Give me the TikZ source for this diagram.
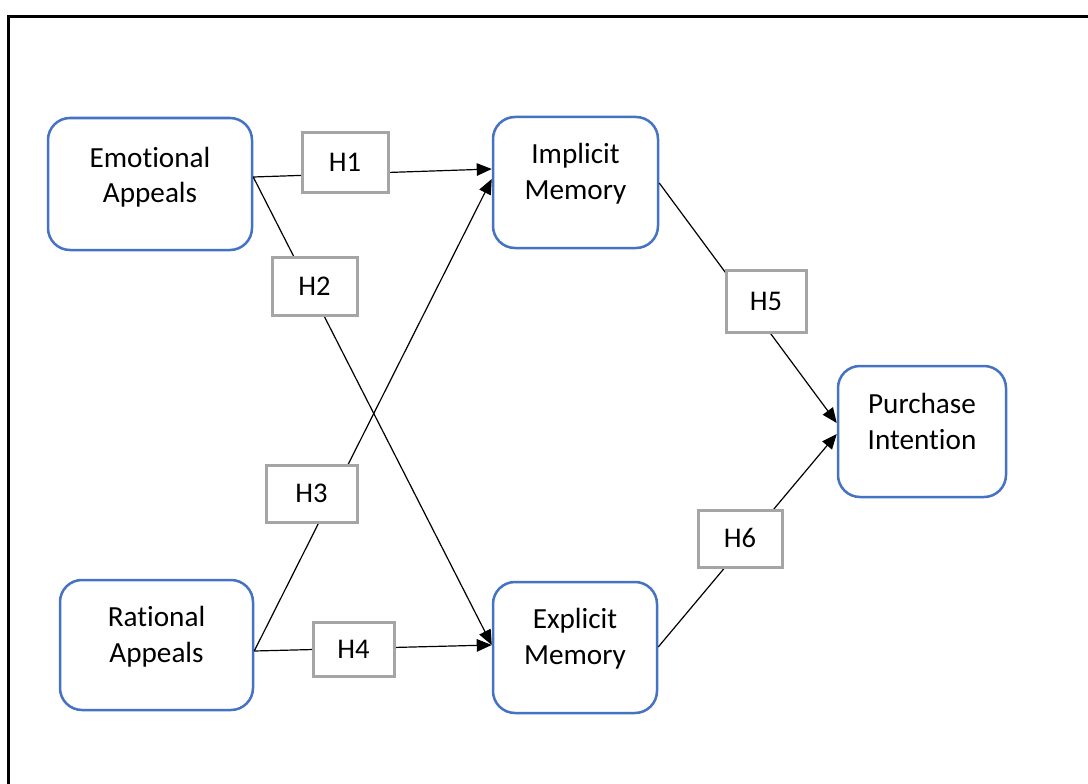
\documentclass[tikz,border=0pt]{standalone}
\usepackage{fontspec}
\setmainfont{Carlito}[Ligatures={NoCommon}]
\usetikzlibrary{arrows.meta,calc}
\definecolor{boxblue}{HTML}{4472C4}
\definecolor{hgray}{HTML}{A5A5A5}
\tikzset{
  varbox/.style={draw=boxblue, line width=2.5pt, rounded corners=22pt, fill=white, inner sep=0pt},
  linetxt/.style={anchor=base, inner sep=0pt, font=\fontsize{29.2}{35}\selectfont},
  hbox/.style={draw=hgray, line width=3pt, fill=white, inner sep=0pt, minimum width=84pt, minimum height=58pt,
               text height=18pt, text depth=0pt, font=\fontsize{28.5}{34}\selectfont},
  conn/.style={line width=1.2pt, -{Triangle[length=15pt,width=12.5pt]}},
  plain/.style={line width=1.2pt}
}
\begin{document}
\begin{tikzpicture}[x=1pt,y=-1pt]
\useasboundingbox (0,0) rectangle (1088,784);
% outer frame
\draw[line width=3pt] (8.5,800) -- (8.5,16.5) -- (1100,16.5);

% variable boxes
\node[varbox, minimum width=204pt, minimum height=132pt] (ea) at (150,184) {};
\node[varbox, minimum width=193pt, minimum height=130pt] (ra) at (156.5,645) {};
\node[varbox, minimum width=165pt, minimum height=131pt] (im) at (575.5,182.5) {};
\node[varbox, minimum width=164pt, minimum height=131pt] (em) at (575,647.5) {};
\node[varbox, minimum width=168pt, minimum height=131pt] (pi) at (922,431.5) {};

% box texts
\node[linetxt] (ea1) at (150,167) {Emotional};
\node[linetxt] (ea2) at (150,202) {Appeals};
\node[linetxt] (ra1) at (156.5,626.7) {Rational};
\node[linetxt] (ra2) at (156.5,662.7) {Appeals};
\node[linetxt] (im1) at (575.5,163.3) {Implicit};
\node[linetxt] (im2) at (575.5,199.3) {Memory};
\node[linetxt] (em1) at (575,628.3) {Explicit};
\node[linetxt] (em2) at (575,664.3) {Memory};
\node[linetxt] (pi1) at (922,413.3) {Purchase};
\node[linetxt] (pi2) at (922,449.3) {Intention};

% connectors
\draw[conn] ($(ea.east)+(0,-7)$) -- ($(im.west)+(0,-13.5)$);
\draw[conn] ($(ea.east)+(0,-7)$) -- ($(em.west)+(0,-2.5)$);
\draw[conn] ($(ra.east)+(0,6)$) -- ($(im.west)+(0,-3.5)$);
\draw[conn] ($(ra.east)+(0,6)$) -- ($(em.west)+(0,-2.5)$);
\draw[conn] ($(im.east)+(0,0.5)$) -- ($(pi.west)+(0,-8.5)$);
\draw[conn] ($(em.east)+(0,-0.5)$) -- ($(pi.west)+(0,2.5)$);

% hypothesis labels
\node[hbox, minimum width=86pt, minimum height=60pt] (h1) at (345,162) {H1};
\node[hbox, minimum width=85pt, minimum height=58pt] (h2) at (314.5,286) {H2};
\node[hbox, minimum width=91pt, minimum height=57pt] (h3) at (311.5,493.5) {H3};
\node[hbox, minimum width=81pt, minimum height=54pt] (h4) at (353.5,649) {H4};
\node[hbox, minimum width=80pt, minimum height=62pt] (h5) at (766,301) {H5};
\node[hbox, minimum width=84pt, minimum height=57pt] (h6) at (740,538.5) {H6};
\end{tikzpicture}
\end{document}
